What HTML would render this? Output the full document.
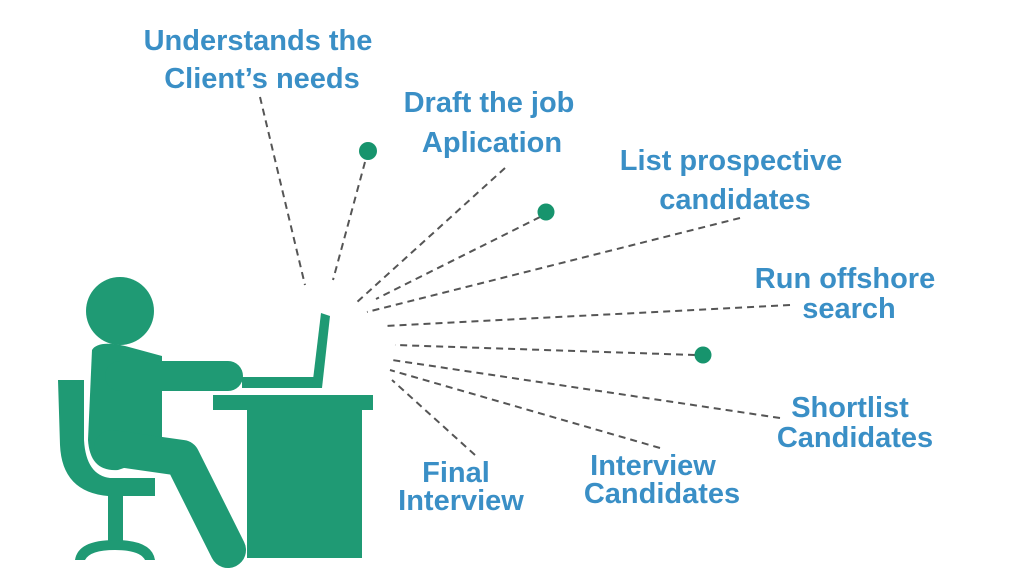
<!DOCTYPE html>
<html><head><meta charset="utf-8"><style>
html,body{margin:0;padding:0;background:#fff;}
svg{display:block}
text{font-family:"Liberation Sans",Arial,sans-serif;font-weight:bold;font-size:29px;fill:#3a8fc6;text-anchor:middle}
</style></head><body>
<svg width="1024" height="576" viewBox="0 0 1024 576">
<rect width="1024" height="576" fill="#fff"/>
<g stroke="#555" stroke-width="2" stroke-dasharray="7,5" fill="none">
<line x1="260" y1="97" x2="305" y2="285"/>
<line x1="365" y1="162" x2="333" y2="280"/>
<line x1="505" y1="168" x2="356" y2="303"/>
<line x1="540" y1="217" x2="376" y2="299"/>
<line x1="740" y1="218" x2="367" y2="312"/>
<line x1="790" y1="305" x2="385" y2="326"/>
<line x1="695" y1="355" x2="395" y2="345"/>
<line x1="780" y1="418" x2="392" y2="360"/>
<line x1="660" y1="448" x2="390" y2="370"/>
<line x1="475" y1="455" x2="392" y2="380"/>
</g>
<g fill="#17946d">
<circle cx="368" cy="151" r="9"/>
<circle cx="546" cy="212" r="8.5"/>
<circle cx="703" cy="355" r="8.5"/>
</g>
<g fill="#1f9a74" stroke="none">
<circle cx="120" cy="311" r="34"/>
<rect x="213" y="395" width="160" height="15"/>
<rect x="247" y="408" width="115" height="150"/>
<rect x="242" y="377" width="75" height="11"/>
<polygon points="312,388 321,313 330,316 322,388"/>
<path d="M92,350 Q98,340 125,346 L162,356 L162,455 L118,470 Q90,472 88,440 Z"/>
<path d="M58,380 L84,380 L84,440 Q86,475 110,478 L155,478 L155,496 L108,496 Q62,492 60,445 Z"/>
<rect x="108" y="494" width="15" height="55"/>
<path d="M75,560 Q78,540 115,540 Q152,540 155,560 L145,560 Q140,550 115,550 Q90,550 85,560 Z"/>
</g>
<g stroke="#1f9a74" stroke-linecap="round" fill="none">
<line x1="120" y1="376" x2="228" y2="376" stroke-width="30"/>
<path d="M112,448 L182,458 L228,550" stroke-width="36" stroke-linejoin="round"/>
</g>
<text x="258" y="50">Understands the</text>
<text x="262" y="88">Client’s needs</text>
<text x="489" y="112">Draft the job</text>
<text x="492" y="152">Aplication</text>
<text x="731" y="170">List prospective</text>
<text x="735" y="209">candidates</text>
<text x="845" y="288">Run offshore</text>
<text x="849" y="318">search</text>
<text x="850" y="417">Shortlist</text>
<text x="855" y="447">Candidates</text>
<text x="653" y="475">Interview</text>
<text x="662" y="503">Candidates</text>
<text x="456" y="482">Final</text>
<text x="461" y="510">Interview</text>
</svg>
</body></html>
